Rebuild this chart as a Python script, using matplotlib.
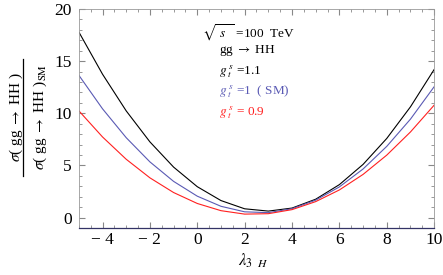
import numpy as np
import matplotlib.pyplot as plt
from matplotlib.ticker import MultipleLocator

plt.rcParams['font.family'] = ['Liberation Serif', 'DejaVu Serif']
plt.rcParams['mathtext.fontset'] = 'stix'

# lambda_3H values and cross-section ratios
lam = [-5, -4, -3, -2, -1, 0, 1, 2, 3, 4, 5, 6, 7, 8, 9, 10]
ratio_11 = [17.8, 13.75, 10.23, 7.26, 4.84, 2.96, 1.63, 0.84, 0.62, 0.91,
            1.76, 3.16, 5.10, 7.59, 10.62, 14.2]
ratio_sm = [13.65, 10.43, 7.66, 5.34, 3.47, 2.05, 1.08, 0.55, 0.47, 0.85,
            1.67, 2.94, 4.66, 6.83, 9.44, 12.55]
ratio_09 = [10.24, 7.73, 5.59, 3.81, 2.40, 1.35, 0.66, 0.33, 0.37, 0.76,
            1.53, 2.65, 4.14, 5.99, 8.21, 10.78]
xticks = [-4, -2, 0, 2, 4, 6, 8, 10]
xticklabels = ['\u2212 4', '\u2212 2', '0', '2', '4', '6', '8', '10']

fig = plt.figure(figsize=(4.43, 2.75), dpi=100)
ax = fig.add_axes([0.178, 0.171, 0.802, 0.796])

ax.plot(lam, ratio_11, color='black', lw=0.8)
ax.plot(lam, ratio_sm, color='#5a5ab4', lw=0.8)
ax.plot(lam, ratio_09, color='#ff2020', lw=0.8)

ax.set_xlim(-5, 10)
ax.set_ylim(-1, 20)
ax.set_xticks(xticks)
ax.set_xticklabels(xticklabels)
ax.xaxis.set_minor_locator(MultipleLocator(0.5))
ax.yaxis.set_major_locator(MultipleLocator(5))
ax.yaxis.set_minor_locator(MultipleLocator(1))
ax.tick_params(which='both', direction='in', top=True, right=True,
               labelsize=12.5, color='#888888', pad=5)
ax.tick_params(axis='x', pad=3)
ax.tick_params(which='major', length=4)
ax.tick_params(which='minor', length=2)
for s in ax.spines.values():
    s.set_color('#999999')
    s.set_linewidth(0.6)
ax.spines['bottom'].set_color('#333366')
ax.spines['bottom'].set_linewidth(0.9)

fs = 9.5
ax.text(0.2, 17.7, r'$\sqrt{\ s\ \ }$ =100  TeV', fontsize=fs, va='center')
ax.text(0.91, 16.0, r'gg $\rightarrow$ HH', fontsize=fs, va='center')
ax.text(0.91, 14.0, r'$g_{\ t}^{\ s}$ =1.1', fontsize=fs, va='center')
ax.text(0.91, 12.06, r'$g_{\ t}^{\ s}$ =1  ( SM)', fontsize=fs, va='center',
        color='#5a5ab4')
ax.text(0.91, 10.1, r'$g_{\ t}^{\ s}$ = 0.9', fontsize=fs, va='center',
        color='#ff2020')

fig.text(0.571, 0.05, r'$\lambda_{3\ \ H}$', fontsize=12,
         ha='center', va='center')

# stacked fraction label on the left
fig.text(0.036, 0.575, r'$\sigma$( gg $\rightarrow$ HH )', rotation=90,
         fontsize=11, ha='center', va='center')
fig.text(0.092, 0.575, r'$\sigma$( gg $\rightarrow$ HH )$_{\rm SM}$', rotation=90,
         fontsize=11, ha='center', va='center')
fig.add_artist(plt.Line2D([0.053, 0.053], [0.36, 0.785], color='black',
                          lw=0.9, transform=fig.transFigure))

fig.savefig('out.png', dpi=100)
